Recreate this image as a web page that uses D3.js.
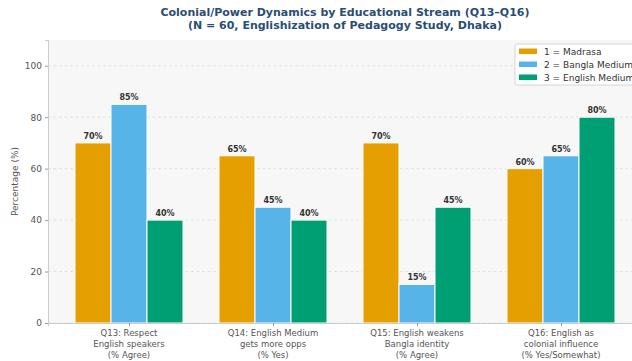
<!DOCTYPE html>
<html><head><meta charset="utf-8">
<script src="https://cdn.jsdelivr.net/npm/d3@7"></script>
<style>body{margin:0;background:#fff;}svg{display:block;font-family:"DejaVu Sans",sans-serif;}</style>
</head><body>
<svg id="c" width="632" height="361"></svg>
<script>
const categories = [
  ["Q13: Respect","English speakers","(% Agree)"],
  ["Q14: English Medium","gets more opps","(% Yes)"],
  ["Q15: English weakens","Bangla identity","(% Agree)"],
  ["Q16: English as","colonial influence","(% Yes/Somewhat)"]
];
const seriesNames = ["1 = Madrasa","2 = Bangla Medium","3 = English Medium"];
const madrasa = [70, 65, 70, 60];
const bangla = [85, 45, 15, 65];
const english = [40, 40, 45, 80];
const yTicks = [0, 20, 40, 60, 80, 100];
const colors = ["#E69F00", "#56B4E9", "#009E73"];
const series = [madrasa, bangla, english];

const svg = d3.select("#c");
const L = 48, R = 642, T = 40, B = 323;
const x = d3.scaleLinear().domain([-0.5625, 3.5625]).range([L, R]);
const y = d3.scaleLinear().domain([0, 110]).range([B, T]);
const bw = 0.25;

svg.append("rect").attr("x", L).attr("y", T).attr("width", R - L).attr("height", B - T).attr("fill", "#f7f7f7");

// grid
svg.append("g").selectAll("line").data(yTicks).join("line")
  .attr("x1", L).attr("x2", R).attr("y1", d => y(d)).attr("y2", d => y(d))
  .attr("stroke", "#dddddd").attr("stroke-width", 0.8).attr("stroke-dasharray", "3,2.5");

// bars
series.forEach((vals, si) => {
  const off = (si - 1) * bw;
  svg.append("g").selectAll("rect").data(vals).join("rect")
    .attr("x", (d, i) => x(i + off - bw / 2))
    .attr("width", x(bw) - x(0))
    .attr("y", d => y(d))
    .attr("height", d => y(0) - y(d))
    .attr("fill", colors[si]).attr("stroke", "#ffffff").attr("stroke-width", 1);
  svg.append("g").selectAll("text").data(vals).join("text")
    .attr("x", (d, i) => x(i + off))
    .attr("y", d => y(d) - 4)
    .attr("text-anchor", "middle")
    .attr("font-size", 8).attr("font-weight", "bold").attr("fill", "#333")
    .text(d => d + "%");
});

// axes
const yAxis = d3.axisLeft(y).tickValues(yTicks).tickSize(3).tickPadding(3);
const gy = svg.append("g").attr("transform", `translate(${L},0)`).call(yAxis);
gy.select(".domain").attr("stroke", "#cccccc");
gy.selectAll(".tick line").attr("stroke", "#999");
gy.selectAll(".tick text").attr("fill", "#555").attr("font-size", 9).attr("font-family", "DejaVu Sans");

const xAxis = d3.axisBottom(x).tickValues([0, 1, 2, 3]).tickSize(3).tickFormat("");
const gx = svg.append("g").attr("transform", `translate(0,${B})`).call(xAxis);
gx.select(".domain").attr("stroke", "#cccccc");
gx.selectAll(".tick line").attr("stroke", "#999");
categories.forEach((lines, i) => {
  const t = svg.append("text").attr("text-anchor", "middle").attr("fill", "#555")
    .attr("font-size", 8.5);
  lines.forEach((ln, j) => {
    t.append("tspan").attr("x", x(i)).attr("y", B + 13 + j * 11).text(ln);
  });
});

// y label
svg.append("text").attr("transform", `translate(18,${(T + B) / 2}) rotate(-90)`)
  .attr("text-anchor", "middle").attr("font-size", 9).attr("fill", "#555").text("Percentage (%)");

// title
const title = svg.append("text").attr("text-anchor", "middle").attr("font-weight", "bold")
  .attr("font-size", 11).attr("fill", "#2a4d73");
title.append("tspan").attr("x", (L + R) / 2).attr("y", 16).text("Colonial/Power Dynamics by Educational Stream (Q13\u2013Q16)");
title.append("tspan").attr("x", (L + R) / 2).attr("y", 29).text("(N = 60, Englishization of Pedagogy Study, Dhaka)");

// legend
const lg = svg.append("g").attr("transform", "translate(515,44)");
lg.append("rect").attr("x", 0).attr("y", 0).attr("width", 130).attr("height", 41).attr("rx", 2)
  .attr("fill", "#fff").attr("fill-opacity", 0.9).attr("stroke", "#cccccc").attr("stroke-width", 0.8);
seriesNames.forEach((n, i) => {
  lg.append("rect").attr("x", 4).attr("y", 4.5 + i * 13).attr("width", 18).attr("height", 5.5).attr("fill", colors[i]);
  lg.append("text").attr("x", 29).attr("y", 10.5 + i * 13).attr("font-size", 9).attr("fill", "#333").text(n);
});
</script>
</body></html>
